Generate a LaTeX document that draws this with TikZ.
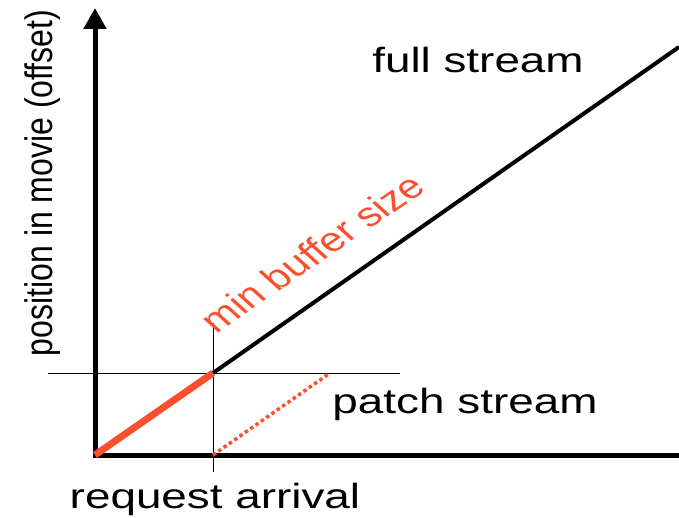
\documentclass[tikz,border=0pt]{standalone}
\usepackage{fontspec}
\setmainfont{Liberation Sans}
\usetikzlibrary{arrows.meta}
\definecolor{buforange}{RGB}{250,80,45}

\begin{document}
\begin{tikzpicture}[x=1pt,y=-1pt]
    \tikzstyle{axis}=[line width=5pt,black]
    \tikzstyle{guide}=[line width=0.9pt,black]
    \tikzstyle{stream}=[line width=4pt,black]
    \tikzstyle{buffer}=[line width=7pt,buforange]
    \tikzstyle{patch}=[line width=3.5pt,buforange,dash pattern=on 3.5pt off 3pt]
    \tikzstyle{label}=[font=\fontsize{35}{40}\selectfont,inner sep=0pt,anchor=base,xscale=1.31]
    \useasboundingbox (0,0) rectangle (679,518);

    % Key points of the plot
    \coordinate (corner) at (92.5,455);
    \coordinate (O) at (95,457.5);
    \coordinate (ytop) at (95,8);
    \coordinate (xend) at (679,455);
    \coordinate (start) at (95,455);
    \coordinate (req) at (213,455);
    \coordinate (buf) at (213,373);
    \coordinate (full) at (679,47);
    \coordinate (patchend) at (330,373);

    % Draw the guide lines
    \draw[guide] (213,323) -- (213,472);
    \draw[guide] (48,373) -- (400,373);

    % Draw the axes
    \draw[axis,-{Triangle[width=22pt,length=21pt]}] (O) -- (ytop);
    \draw[axis] (corner) -- (xend);

    % Draw the streams
    \draw[stream] (buf) -- (full);
    \draw[patch] (req) -- (patchend);
    \draw[buffer] (start) -- (buf);

    % Annotate the plot
    \node[label] (fulltxt) at (478,73) {full stream};
    \node[label] (patchtxt) at (465,413) {patch stream};
    \node[label] (reqtxt) at (215,508) {request arrival};
    \node[label,font=\fontsize{32}{36}\selectfont,xscale=1.2/1.31,rotate=90] (ytxt) at (52,183) {position in movie (offset)};
    \node[label,font=\fontsize{34}{40}\selectfont,text=buforange,xscale=1.27/1.31,rotate=41] (buftxt) at (322,262) {min buffer size};
\end{tikzpicture}
\end{document}
